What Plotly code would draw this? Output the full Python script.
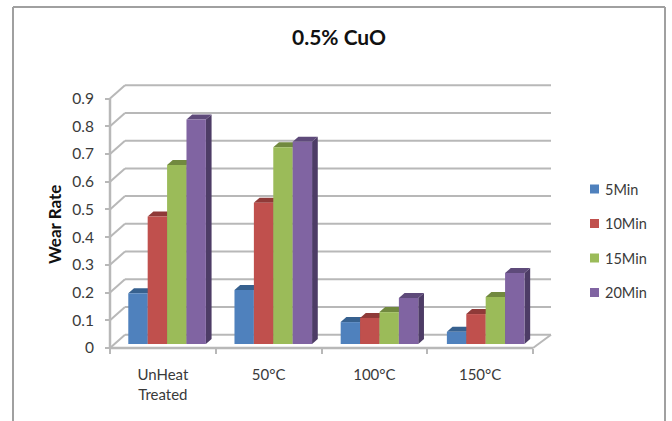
import plotly.graph_objects as go

categories = ["UnHeat<br>Treated", "50°C", "100°C", "150°C"]
series_names = ["5Min", "10Min", "15Min", "20Min"]
wear_5min = [0.183, 0.195, 0.079, 0.044]
wear_10min = [0.46, 0.51, 0.094, 0.108]
wear_15min = [0.646, 0.71, 0.115, 0.17]
wear_20min = [0.81, 0.73, 0.166, 0.256]
y_ticks = [0, 0.1, 0.2, 0.3, 0.4, 0.5, 0.6, 0.7, 0.8, 0.9]
y_tick_labels = ["0", "0.1", "0.2", "0.3", "0.4", "0.5", "0.6", "0.7", "0.8", "0.9"]

front_colors = ["#4F81BD", "#C0504D", "#9BBB59", "#8064A2"]
top_colors = ["#37618F", "#8F3A38", "#71893F", "#5E4A7A"]
side_colors = ["#2F5278", "#76302E", "#5D7134", "#4D3C66"]

W, H = 672, 421
FONT = "Lato"
TEXT = "#3A3A3A"
GRID = "#B8B8B8"

# pixel frame of the plotting area, and of the front edge of the 3-D box
L, R, T, B = 100, 560, 75, 360
X0_PX, Y0_PX = 110, 348
PX_PER_CAT = 105.75
PX_PER_UNIT = 277.2


def dx(px):
    return px / PX_PER_CAT


def dy(px):
    return px / PX_PER_UNIT


x_range = [-0.5 - dx(X0_PX - L), -0.5 + dx(R - X0_PX)]
y_range = [-dy(B - Y0_PX), dy(Y0_PX - T)]

# depth of the box walls and of the bars
WALL_DX_L, WALL_DX_R, WALL_DY = dx(15), dx(18), dy(13.3)
BAR_DX, BAR_DY = dx(5.7), dy(5)
FLOOR = dy(4)
BAR_W = dx(19.4)
GROUP_SHIFT = dx(4.2)
GROUP_PITCH = dx(106.2)

shapes = []


def poly(points, fill, line=None, width=0):
    path = "M" + " L".join(f"{x},{y}" for x, y in points) + " Z"
    return dict(type="path", path=path, xref="x", yref="y", layer="below",
                fillcolor=fill, line=dict(color=line or fill, width=width))


def segment(x0, y0, x1, y1, width=2):
    return dict(type="line", x0=x0, y0=y0, x1=x1, y1=y1, xref="x", yref="y",
                layer="below", line=dict(color=GRID, width=width))


# walls: a gridline runs from the front axis up the left wall and along the back
left, right = -0.5, len(categories) - 0.5
for t in y_ticks:
    shapes.append(segment(left, t, left + WALL_DX_L, t + WALL_DY))
    shapes.append(segment(left + WALL_DX_L, t + WALL_DY, right + WALL_DX_R, t + WALL_DY))
shapes.append(segment(left, 0, left, y_ticks[-1], 2.5))
shapes.append(segment(left, 0, right, 0, 2.5))
shapes.append(segment(right, 0, right + WALL_DX_R, WALL_DY))

all_series = [wear_5min, wear_10min, wear_15min, wear_20min]
group_x = [i * GROUP_PITCH + GROUP_SHIFT for i in range(len(categories))]

# top and side faces of each bar, placed behind the bar fronts
for s, values in enumerate(all_series):
    for gx, v in zip(group_x, values):
        x_l = gx + (s - 2) * BAR_W
        x_r = x_l + BAR_W
        top = v + FLOOR
        shapes.append(poly([(x_r, FLOOR), (x_r + BAR_DX, FLOOR + BAR_DY),
                            (x_r + BAR_DX, top + BAR_DY), (x_r, top)], side_colors[s]))
        shapes.append(poly([(x_l, top), (x_l + BAR_DX, top + BAR_DY),
                            (x_r + BAR_DX, top + BAR_DY), (x_r, top)], top_colors[s]))

fig = go.Figure()
for s, values in enumerate(all_series):
    fig.add_trace(go.Bar(
        name=series_names[s],
        x=group_x,
        y=values,
        base=[FLOOR] * len(values),
        marker=dict(color=front_colors[s], line=dict(width=0)),
        showlegend=False,
    ))


def paper_x(px):
    return (px - L) / (R - L)


def paper_y(px):
    return (B - px) / (B - T)


# legend entries
legend_y = [189, 223.5, 258, 292.5]
annotations = []
for name, color, ly in zip(series_names, front_colors, legend_y):
    shapes.append(dict(type="rect", xref="paper", yref="paper",
                       x0=paper_x(590), x1=paper_x(599),
                       y0=paper_y(ly - 4.5), y1=paper_y(ly + 4.5),
                       fillcolor=color, line=dict(width=0)))
    annotations.append(dict(text=name, xref="paper", yref="paper", showarrow=False,
                            x=paper_x(603), y=paper_y(ly), xanchor="left", yanchor="middle",
                            font=dict(family=FONT, size=14.5, color=TEXT)))

annotations.append(dict(text="<b>Wear Rate</b>", xref="paper", yref="paper", showarrow=False,
                        x=paper_x(54), y=paper_y(225), textangle=-90,
                        xanchor="center", yanchor="middle",
                        font=dict(family=FONT, size=17, color="#111111")))

# chart border, open at the bottom edge of the page
for x0, y0, x1, y1 in [(13, 421, 13, 7), (13, 7, 665, 7), (665, 7, 665, 421)]:
    shapes.append(dict(type="line", xref="paper", yref="paper",
                       x0=paper_x(x0), y0=paper_y(y0), x1=paper_x(x1), y1=paper_y(y1),
                       line=dict(color="#A0A0A0", width=2)))

fig.update_layout(
    width=W, height=H, autosize=False,
    margin=dict(l=L, r=W - R, t=T, b=H - B, pad=0),
    paper_bgcolor="white", plot_bgcolor="white",
    barmode="group", bargap=1 - 4 * BAR_W / GROUP_PITCH, bargroupgap=0,
    showlegend=False,
    title=dict(text="<b>0.5% CuO</b>", x=339 / W, y=1 - 38 / H, xanchor="center", yanchor="middle",
               font=dict(family=FONT, size=21, color="#111111")),
    xaxis=dict(range=x_range, anchor="free", position=paper_y(Y0_PX),
               tickmode="array", tickvals=list(range(len(categories))), ticktext=categories,
               ticks="", showgrid=False, zeroline=False, showline=False,
               ticklabelstandoff=16,
               tickfont=dict(family=FONT, size=15, color=TEXT),
               minor=dict(tickmode="array", tickvals=[i - 0.5 for i in range(len(categories) + 1)],
                          ticks="outside", ticklen=5, tickwidth=1.5, tickcolor=GRID, showgrid=False)),
    yaxis=dict(range=y_range, anchor="free", position=paper_x(X0_PX),
               tickmode="array", tickvals=y_ticks, ticktext=y_tick_labels,
               ticks="outside", ticklen=5, tickwidth=1.5, tickcolor=GRID,
               showgrid=False, zeroline=False, showline=False,
               ticklabelstandoff=8,
               tickfont=dict(family=FONT, size=15.5, color=TEXT)),
    shapes=shapes,
    annotations=annotations,
)

fig.write_html("out.html")
